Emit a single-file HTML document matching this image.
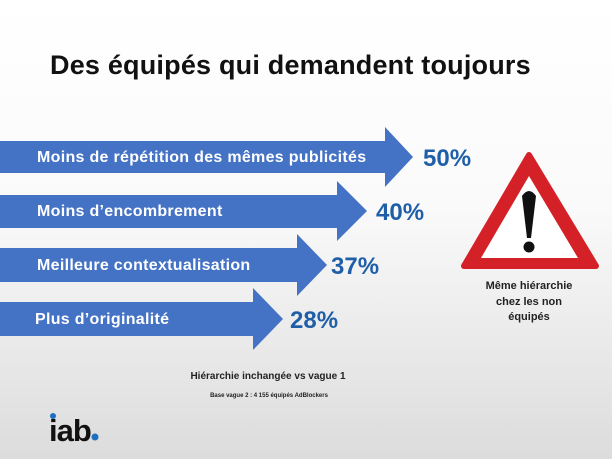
<!DOCTYPE html>
<html><head><meta charset="utf-8"><style>
html,body{margin:0;padding:0}
body{width:612px;height:459px;overflow:hidden;background:linear-gradient(#ffffff 0%,#fafafa 45%,#dcdcdc 100%);font-family:"Liberation Sans",sans-serif;position:relative}
.t{position:absolute;white-space:nowrap}
</style></head><body>
<div class="t" style="left:50px;top:50px;font-size:27px;font-weight:bold;color:#111;letter-spacing:0.2px">Des équipés qui demandent toujours</div>
<svg width="612" height="459" style="position:absolute;left:0;top:0">
<g fill="#4472c4">
<polygon points="0,141 385,141 385,127 413,157 385,187 385,173 0,173"/>
<polygon points="0,195 337,195 337,181 367,211 337,241 337,228 0,228"/>
<polygon points="0,248 297,248 297,234 327,265 297,296 297,282 0,282"/>
<polygon points="0,302 253,302 253,288 283,319 253,350 253,336 0,336"/>
</g>
<g font-family="Liberation Sans" font-weight="bold" fill="#fff" font-size="16" letter-spacing="0.3">
<text x="37" y="162">Moins de répétition des mêmes publicités</text>
<text x="37" y="216">Moins d’encombrement</text>
<text x="37" y="270">Meilleure contextualisation</text>
<text x="35" y="324">Plus d’originalité</text>
</g>
<g font-family="Liberation Sans" font-weight="bold" fill="#1f5fa8" font-size="24">
<text x="423" y="166">50%</text>
<text x="376" y="220">40%</text>
<text x="331" y="274">37%</text>
<text x="290" y="328">28%</text>
</g>
<polygon points="529,155 464,266 596,266" fill="#d42027" stroke="#d42027" stroke-width="6" stroke-linejoin="round"/>
<polygon points="529,176 481,258 578,258" fill="#fff"/>
<path d="M522,196 Q529,186 536,196 L531,238 L527,238 Z" fill="#111"/>
<circle cx="529" cy="247" r="5.5" fill="#111"/>
<g font-family="Liberation Sans" font-weight="bold" fill="#222" font-size="11" text-anchor="middle">
<text x="529" y="289">Même hiérarchie</text>
<text x="529" y="305">chez les non</text>
<text x="529" y="320">équipés</text>
<text x="268" y="379" font-size="10">Hiérarchie inchangée vs vague 1</text>
<text x="269" y="397" font-size="6">Base vague 2 : 4 155 équipés AdBlockers</text>
</g>
<text x="49" y="441" font-family="Liberation Sans" font-weight="bold" font-size="31" fill="#111" letter-spacing="-1">iab</text>
<circle cx="95" cy="437" r="3.5" fill="#1f6fc0"/>
<circle cx="53" cy="416" r="3" fill="#1f6fc0"/>
</svg>
</body></html>
